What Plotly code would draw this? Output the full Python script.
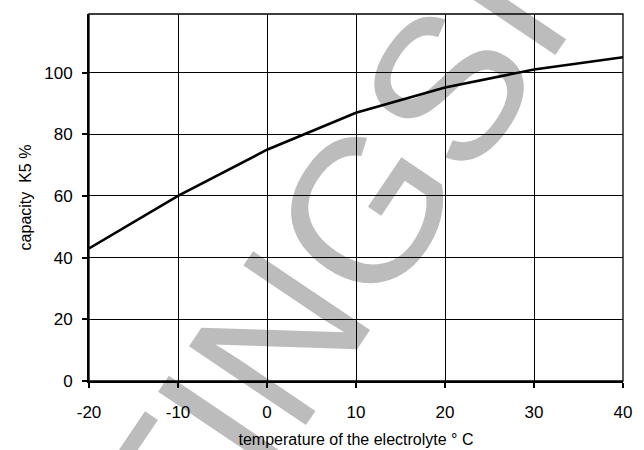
import plotly.graph_objects as go

temps = [-20, -10, 0, 10, 20, 30, 40]
capacity = [43, 60, 75, 87, 95.2, 101, 105]
x_ticks = [-20, -10, 0, 10, 20, 30, 40]
y_ticks = [0, 20, 40, 60, 80, 100]
x_title = "temperature of the electrolyte ° C"
y_title = "capacity  K5 %"
watermark = "TINGSI"

fig = go.Figure()
fig.add_trace(go.Scatter(x=temps, y=capacity, mode="lines",
                         line=dict(color="black", width=2.6), showlegend=False,
                         hoverinfo="skip"))

font_family = "Liberation Sans, Arial, sans-serif"

fig.update_layout(
    width=644, height=450,
    margin=dict(l=89, r=21, t=14, b=69, autoexpand=False),
    paper_bgcolor="white", plot_bgcolor="rgba(0,0,0,0)",
    font=dict(family=font_family, size=16, color="black"),
    xaxis=dict(range=[-20, 40], tickvals=x_ticks, ticktext=[str(v) for v in x_ticks],
               showgrid=True, gridcolor="black", gridwidth=1,
               showline=True, linecolor="black", linewidth=2,
               ticks="outside", ticklen=5, tickwidth=1.5, tickcolor="black",
               tickfont=dict(size=17), zeroline=False, ticklabelstandoff=10,
               title=dict(text=x_title, font=dict(size=16), standoff=12)),
    yaxis=dict(range=[0, 119], tickvals=y_ticks, ticktext=[str(v) for v in y_ticks],
               showgrid=True, gridcolor="black", gridwidth=1,
               showline=True, linecolor="black", linewidth=2,
               ticks="outside", ticklen=5, tickwidth=1.5, tickcolor="black",
               tickfont=dict(size=17), zeroline=False, ticklabelstandoff=6,
               title=dict(text=y_title, font=dict(size=16), standoff=9)),
)

# plot border (top/right)
fig.add_shape(type="rect", xref="paper", yref="paper", x0=0, x1=1, y0=0, y1=1,
              line=dict(color="black", width=1.3), fillcolor="rgba(0,0,0,0)", layer="above")

# watermark behind everything
fig.add_shape(type="rect", xref="paper", yref="paper",
              x0=0.405, x1=0.425, y0=0.330, y1=0.350,
              line=dict(width=0), fillcolor="rgba(0,0,0,0)", layer="below",
              label=dict(text=watermark, textangle=-56, textposition="middle center",
                         font=dict(size=205, color="#bcbcbc", family=font_family)))

fig.write_html("out.html", config={"displayModeBar": False},
               post_script="document.body.style.margin='0';")
